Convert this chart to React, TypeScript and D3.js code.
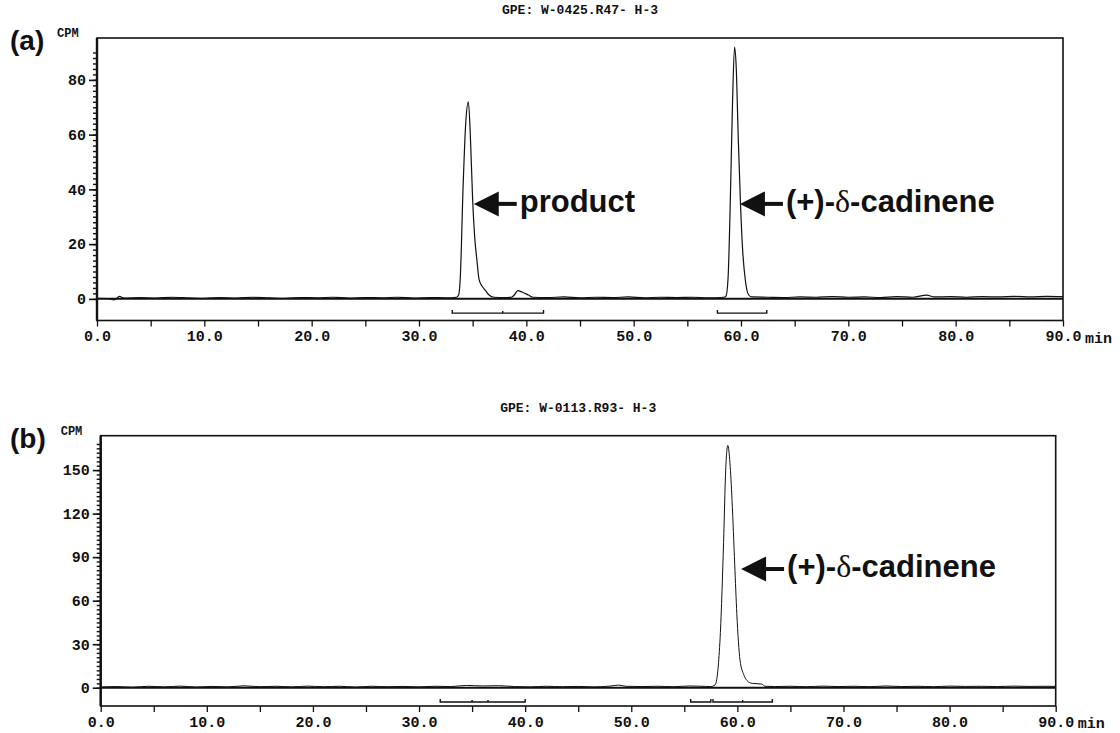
import React, { useEffect, useRef } from 'react';
import * as d3 from 'd3';

type Pt = [number, number];

// retention time ticks (min)
const timeMinor = d3.range(0, 91, 5);
const timeLabels = ['0.0', '10.0', '20.0', '30.0', '40.0', '50.0', '60.0', '70.0', '80.0', '90.0'];

// (a) GPE: W-0425.R47- H-3
const cpmTicksA = [0, 20, 40, 60, 80];
const traceA: Pt[] = [
  [0, 0.2], [1, 0.1], [1.6, -0.4], [2.1, 0.9], [2.5, 0.3], [4, 0.5], [5.5, 0.3], [7, 0.6], [8.5, 0.4],
  [10, 0.2], [11.5, 0.5], [13, 0.3], [14.5, 0.6], [16, 0.4], [17.5, 0.2], [19, 0.5], [20.5, 0.4],
  [22, 0.6], [23.5, 0.3], [25, 0.5], [26.5, 0.4], [28, 0.6], [29.5, 0.3], [31, 0.5], [32.5, 0.4],
  [33.5, 0.6], [33.7, 1.5], [33.85, 8], [34.1, 40], [34.35, 64], [34.6, 72], [34.8, 58], [35.0, 36],
  [35.2, 22], [35.4, 14], [35.6, 7], [35.9, 4.5], [36.2, 3], [36.5, 1.5], [37, 0.6], [38, 0.5],
  [38.6, 0.6], [38.9, 1.5], [39.2, 3], [39.6, 2.5], [40.2, 1.4], [40.6, 0.6], [42, 0.5], [43.5, 0.7],
  [45, 0.4], [46.5, 0.6], [48, 0.5], [49.5, 0.7], [51, 0.4], [52.5, 0.6], [54, 0.5], [55.5, 0.6],
  [57, 0.4], [58.4, 0.6], [58.6, 1], [58.8, 8], [59.0, 35], [59.2, 70], [59.4, 92], [59.55, 85],
  [59.75, 58], [59.95, 35], [60.15, 18], [60.4, 7], [60.7, 1.5], [61, 0.7], [62.5, 0.6], [64, 0.5],
  [65.5, 0.7], [67, 0.6], [68.5, 0.8], [70, 0.6], [71.5, 0.7], [73, 0.5], [74.5, 0.8], [76, 0.6],
  [77.3, 1.4], [78, 0.7], [79.5, 0.8], [81, 0.6], [82.5, 0.8], [84, 0.7], [85.5, 0.9], [87, 0.7],
  [88.5, 0.9], [90, 0.8],
];
const bracketsA: Pt[] = [[33.1, 41.6], [57.8, 62.4]];
const bracketMarksA = [37.8];
const labelsA = [
  { t: 35.1, cpm: 34.7, pre: 'product', greek: '', post: '' },
  { t: 59.9, cpm: 34.7, pre: '(+)-', greek: 'δ', post: '-cadinene' },
];

// (b) GPE: W-0113.R93- H-3
const cpmTicksB = [0, 30, 60, 90, 120, 150];
const traceB: Pt[] = [
  [0, 0.5], [1.5, 0.8], [3, 0.4], [4.5, 1], [6, 0.6], [7.5, 1.1], [9, 0.5], [10.5, 0.9], [12, 0.6],
  [13.5, 1.3], [15, 0.7], [16.5, 1], [18, 0.6], [19.5, 1.1], [21, 0.7], [22.5, 1], [24, 0.5],
  [25.5, 1], [27, 0.7], [28.5, 0.9], [30, 0.6], [31.5, 1], [33, 0.8], [34.5, 1.6], [36, 1.2],
  [37.5, 1.4], [39, 0.8], [40.5, 0.6], [42, 1], [43.5, 0.7], [45, 0.9], [46.5, 0.6], [48, 1.1],
  [48.8, 1.8], [49.5, 1], [51, 0.8], [52.5, 1], [54, 0.7], [55.5, 1.2], [57, 0.9], [57.5, 0.8],
  [57.9, 2], [58.2, 15], [58.4, 38], [58.7, 100], [58.9, 150], [59.1, 167], [59.3, 155], [59.5, 129],
  [59.75, 85], [59.95, 51], [60.25, 19], [60.6, 9], [60.9, 5], [61.4, 3], [62.3, 2.5], [62.6, 1],
  [63.5, 0.8], [65, 1], [66.5, 0.7], [68, 1.1], [69.5, 0.8], [71, 1], [72.5, 0.7], [74, 1.2],
  [75.5, 0.8], [77, 1], [78.5, 0.7], [80, 1.1], [81.5, 0.9], [83, 1], [84.5, 0.8], [86, 1.1],
  [87.5, 0.9], [89, 1], [90, 0.9],
];
const bracketsB: Pt[] = [[32.0, 40.0], [55.6, 57.5], [57.7, 63.3]];
const bracketMarksB = [35.0, 36.5, 60.5];
const labelsB = [
  { t: 60.35, cpm: 81.8, pre: '(+)-', greek: 'δ', post: '-cadinene' },
];

const panels = [
  {
    tag: '(a)', title: 'GPE: W-0425.R47- H-3', trace: traceA, majors: cpmTicksA, minorStep: 2, minorMax: 90,
    brackets: bracketsA, marks: bracketMarksA, labels: labelsA, bracketAt: -5.2, traceWidth: 1.2,
    box: { left: 97, right: 1063, top: 38, bottom: 320.5 }, yDomain: [-7.9, 95.3],
  },
  {
    tag: '(b)', title: 'GPE: W-0113.R93- H-3', trace: traceB, majors: cpmTicksB, minorStep: 3, minorMax: 168,
    brackets: bracketsB, marks: bracketMarksB, labels: labelsB, bracketAt: -9.8, traceWidth: 1,
    box: { left: 100.7, right: 1055.7, top: 435.7, bottom: 706 }, yDomain: [-12.6, 173.7],
  },
];

const INK = '#111';
const MONO = '"Liberation Mono", "DejaVu Sans Mono", monospace';
const SANS = '"Liberation Sans", Arial, sans-serif';
const SERIF = '"Liberation Serif", "DejaVu Serif", serif';

function drawPanel(root: d3.Selection<SVGGElement, unknown, null, undefined>, p: typeof panels[number]) {
  const { left, right, top, bottom } = p.box;
  const x = d3.scaleLinear().domain([0, 90]).range([left, right]);
  const y = d3.scaleLinear().domain(p.yDomain).range([bottom, top]);
  const g = root.append('g');

  // frame
  g.append('rect')
    .attr('x', left).attr('y', top)
    .attr('width', right - left).attr('height', bottom - top)
    .attr('fill', 'none').attr('stroke', INK).attr('stroke-width', 1.6);
  g.append('line')
    .attr('x1', left).attr('x2', left).attr('y1', top).attr('y2', bottom)
    .attr('stroke', INK).attr('stroke-width', 2.4);

  // y axis: minor + major ticks
  const minor = d3.range(0, p.minorMax + 0.01, p.minorStep);
  g.append('g')
    .attr('transform', `translate(${left},0)`)
    .call(d3.axisLeft(y).tickValues(minor).tickSize(4).tickFormat(() => ''))
    .call(s => s.select('.domain').remove())
    .call(s => s.selectAll('line').attr('stroke', INK).attr('stroke-width', 1.4));
  g.append('g')
    .attr('transform', `translate(${left},0)`)
    .call(d3.axisLeft(y).tickValues(p.majors).tickSize(8).tickPadding(3).tickFormat(d => String(d)))
    .call(s => s.select('.domain').remove())
    .call(s => s.selectAll('line').attr('stroke', INK).attr('stroke-width', 1.6))
    .call(s => s.selectAll('text')
      .attr('fill', INK).style('font-family', MONO).style('font-weight', 'bold').style('font-size', '15px'));

  // x axis
  g.append('g')
    .attr('transform', `translate(0,${bottom})`)
    .call(d3.axisBottom(x).tickValues(timeMinor).tickSize(6).tickPadding(4)
      .tickFormat(d => (Number(d) % 10 === 0 ? timeLabels[Number(d) / 10] : '')))
    .call(s => s.select('.domain').remove())
    .call(s => s.selectAll('line').attr('stroke', INK).attr('stroke-width', 1.3))
    .call(s => s.selectAll('text')
      .attr('fill', INK).style('font-family', MONO).style('font-weight', 'bold').style('font-size', '15px'));
  g.append('text')
    .attr('x', x(90) + 22).attr('y', bottom + 22)
    .attr('fill', INK).style('font-family', MONO).style('font-weight', 'bold').style('font-size', '15px')
    .text('min');

  // zero line and trace
  g.append('line')
    .attr('x1', left).attr('x2', right).attr('y1', y(0)).attr('y2', y(0))
    .attr('stroke', INK).attr('stroke-width', 2);
  const line = d3.line<Pt>().x(d => x(d[0])).y(d => y(d[1])).curve(d3.curveMonotoneX);
  g.append('path')
    .datum(p.trace)
    .attr('d', line)
    .attr('fill', 'none').attr('stroke', INK).attr('stroke-width', p.traceWidth);

  // integration brackets
  const by = y(p.bracketAt);
  p.brackets.forEach(([a, b]) => {
    g.append('path')
      .attr('d', `M${x(a)},${by - 3}V${by}H${x(b)}V${by - 3}`)
      .attr('fill', 'none').attr('stroke', INK).attr('stroke-width', 1.4);
  });
  p.marks.forEach(m => {
    g.append('line')
      .attr('x1', x(m)).attr('x2', x(m)).attr('y1', by - 2).attr('y2', by)
      .attr('stroke', INK).attr('stroke-width', 1.4);
  });

  // peak labels with arrows
  p.labels.forEach(l => {
    const tx = x(l.t);
    const ty = y(l.cpm);
    g.append('path')
      .attr('d', `M${tx},${ty}L${tx + 25},${ty - 12.5}V${ty + 12.5}Z`)
      .attr('fill', INK);
    g.append('rect')
      .attr('x', tx + 22).attr('y', ty - 2)
      .attr('width', 21).attr('height', 4)
      .attr('fill', INK);
    const txt = g.append('text')
      .attr('x', tx + 46).attr('y', ty + 8)
      .attr('fill', INK)
      .style('font-family', SANS).style('font-weight', 'bold').style('font-size', '31px');
    txt.append('tspan').text(l.pre);
    if (l.greek) {
      txt.append('tspan')
        .style('font-family', SERIF).style('font-weight', 'normal').style('font-size', '32px')
        .text(l.greek);
    }
    if (l.post) txt.append('tspan').text(l.post);
  });

  // titles
  g.append('text')
    .attr('x', (left + right) / 2).attr('y', top - 24)
    .attr('text-anchor', 'middle').attr('fill', INK)
    .style('font-family', MONO).style('font-weight', 'bold').style('font-size', '13px')
    .text(p.title);
  g.append('text')
    .attr('x', left - 40).attr('y', top - 1)
    .attr('fill', INK)
    .style('font-family', MONO).style('font-weight', 'bold').style('font-size', '12px')
    .text('CPM');
  g.append('text')
    .attr('x', 10).attr('y', top + 12)
    .attr('fill', INK)
    .style('font-family', SANS).style('font-weight', 'bold').style('font-size', '28px')
    .text(p.tag);
}

export default function App() {
  const ref = useRef<SVGSVGElement>(null);

  useEffect(() => {
    const svg = d3.select(ref.current);
    svg.selectAll('*').remove();
    const root = svg.append('g');
    panels.forEach(p => drawPanel(root as any, p));
  }, []);

  return (
    <svg
      ref={ref}
      width={1120}
      height={733}
      style={{ position: 'absolute', left: 0, top: 0, background: '#fff' }}
    />
  );
}
